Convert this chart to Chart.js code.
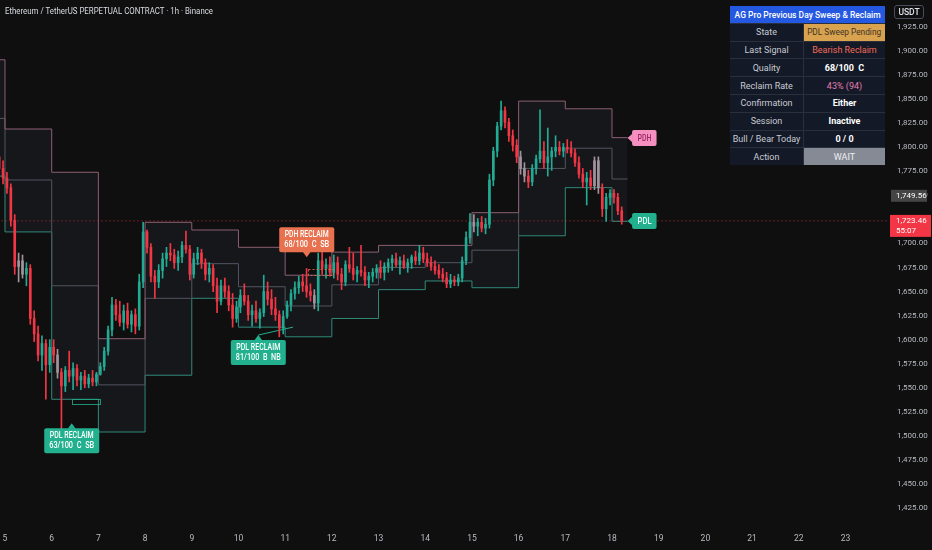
<!DOCTYPE html>
<html>
<head>
<meta charset="utf-8">
<title>ETHUSDT.P 1h - Previous Day Sweep & Reclaim</title>
<script src="https://cdn.jsdelivr.net/npm/chart.js@4.4.1/dist/chart.umd.min.js"></script>
<style>
  html, body { margin: 0; padding: 0; background: #0f0f0f; }
  #wrap { position: relative; width: 932px; height: 550px; overflow: hidden; font-family: Roboto, 'Liberation Sans', sans-serif; }
  #chart { position: absolute; left: 0; top: 0; }
  .title { position: absolute; left: 5px; top: 5px; font-size: 9.5px; line-height: 12px; color: #d8dbe2; white-space: nowrap; transform-origin: 0 50%; }
  .usdt { position: absolute; left: 894px; top: 5px; width: 30px; height: 14px; box-sizing: border-box; border: 1px solid #4a4e59; border-radius: 3px; color: #e0e3eb; font-size: 8.5px; font-weight: 500; line-height: 12px; text-align: center; }
  .info { position: absolute; left: 730px; top: 6px; width: 155px; display: grid; grid-template-columns: 73px 81px; grid-auto-rows: 16.8px; gap: 1px; background: #2a2f3c; }
  .info div { display: flex; align-items: center; justify-content: center; background: #131926; color: #c8cbd3; font-size: 9px; white-space: nowrap; overflow: hidden; }
  .info span { display: inline-block; transform-origin: 50% 50%; }
  .info .head { grid-column: span 2; background: #2458e0; color: #ffffff; font-weight: 500; font-size: 9.5px; }
  .info .state { background: #d9a24f; color: #3d3325; }
  .info .bear { color: #f26b5b; }
  .info .strong { color: #ffffff; font-weight: 700; }
  .info .rate { color: #e67fb6; }
  .info .wait { background: #868a95; color: #eceef2; }
</style>
</head>
<body>
<div id="wrap">
  <canvas id="chart" width="932" height="550"></canvas>
  <span class="title" id="title">Ethereum / TetherUS PERPETUAL CONTRACT · 1h · Binance</span>
  <div class="usdt">USDT</div>
  <div class="info">
    <div class="head"><span id="head">AG Pro Previous Day Sweep &amp; Reclaim</span></div>
    <div>State</div><div class="state"><span id="state">PDL Sweep Pending</span></div>
    <div>Last Signal</div><div class="bear">Bearish Reclaim</div>
    <div>Quality</div><div class="strong">68/100&nbsp; C</div>
    <div>Reclaim Rate</div><div class="rate">43% (94)</div>
    <div>Confirmation</div><div class="strong">Either</div>
    <div>Session</div><div class="strong">Inactive</div>
    <div>Bull / Bear Today</div><div class="strong">0 / 0</div>
    <div>Action</div><div class="wait">WAIT</div>
  </div>
</div>
<script>
// 2h candles [open, high, low, close]
const mar04 = [[1790, 1800, 1772, 1778], [1778, 1786, 1762, 1768]];
const mar05 = [
  [1768, 1774, 1752, 1758], [1758, 1762, 1718, 1724], [1724, 1730, 1668, 1676], [1676, 1690, 1660, 1682],
  [1682, 1688, 1664, 1668], [1668, 1680, 1656, 1674], [1674, 1678, 1616, 1622], [1622, 1630, 1598, 1606],
  [1606, 1614, 1578, 1584], [1584, 1604, 1568, 1596], [1596, 1600, 1538, 1574], [1574, 1600, 1566, 1592]
];
const mar06 = [
  [1592, 1600, 1576, 1584], [1584, 1590, 1560, 1566], [1566, 1570, 1505, 1552], [1552, 1572, 1546, 1568],
  [1568, 1588, 1556, 1562], [1562, 1576, 1548, 1570], [1570, 1574, 1552, 1558], [1558, 1566, 1548, 1562],
  [1562, 1568, 1550, 1554], [1554, 1564, 1550, 1560], [1560, 1568, 1552, 1556], [1556, 1566, 1552, 1564]
];
const mar07 = [
  [1564, 1576, 1563, 1572], [1572, 1592, 1568, 1588], [1588, 1614, 1584, 1610], [1610, 1644, 1604, 1636],
  [1636, 1642, 1620, 1626], [1626, 1640, 1614, 1618], [1618, 1636, 1610, 1630], [1630, 1638, 1612, 1616],
  [1616, 1630, 1608, 1626], [1626, 1632, 1606, 1614], [1614, 1668, 1610, 1660], [1660, 1722, 1654, 1712]
];
const mar08 = [
  [1712, 1714, 1690, 1696], [1696, 1700, 1660, 1666], [1666, 1672, 1643, 1660], [1660, 1678, 1654, 1672],
  [1672, 1690, 1664, 1684], [1684, 1696, 1676, 1690], [1690, 1700, 1682, 1688], [1688, 1694, 1674, 1680],
  [1680, 1692, 1672, 1686], [1686, 1702, 1680, 1698], [1698, 1713, 1690, 1694], [1694, 1698, 1662, 1668]
];
const mar09 = [
  [1668, 1690, 1664, 1684], [1684, 1696, 1678, 1690], [1690, 1694, 1674, 1680], [1680, 1684, 1662, 1668],
  [1668, 1680, 1660, 1674], [1674, 1678, 1650, 1656], [1656, 1664, 1628, 1640], [1640, 1662, 1636, 1656],
  [1656, 1664, 1644, 1650], [1650, 1656, 1630, 1636], [1636, 1648, 1613, 1622], [1622, 1640, 1618, 1634]
];
const mar10 = [
  [1634, 1652, 1628, 1646], [1646, 1658, 1636, 1640], [1640, 1646, 1620, 1626], [1626, 1636, 1614, 1630],
  [1630, 1640, 1618, 1622], [1622, 1632, 1612, 1628], [1628, 1667, 1624, 1650], [1650, 1660, 1636, 1642],
  [1642, 1652, 1626, 1632], [1632, 1644, 1620, 1626], [1626, 1630, 1603, 1612], [1612, 1630, 1606, 1624]
];
const mar11 = [
  [1624, 1640, 1622, 1636], [1636, 1652, 1630, 1648], [1648, 1660, 1642, 1654], [1654, 1666, 1648, 1660],
  [1660, 1668, 1650, 1656], [1656, 1674, 1644, 1650], [1650, 1658, 1640, 1646], [1646, 1652, 1632, 1638],
  [1638, 1690, 1630, 1682], [1682, 1691, 1668, 1674], [1674, 1684, 1664, 1678], [1678, 1686, 1666, 1670]
];
const mar12 = [
  [1670, 1688, 1664, 1680], [1680, 1686, 1662, 1668], [1668, 1674, 1652, 1660], [1660, 1682, 1656, 1678],
  [1678, 1696, 1670, 1674], [1674, 1690, 1662, 1668], [1668, 1676, 1660, 1672], [1672, 1698, 1666, 1670],
  [1670, 1676, 1656, 1662], [1662, 1670, 1654, 1666], [1666, 1674, 1660, 1670], [1670, 1678, 1664, 1674]
];
const mar13 = [
  [1674, 1682, 1664, 1670], [1670, 1680, 1662, 1676], [1676, 1684, 1670, 1680], [1680, 1688, 1672, 1684],
  [1684, 1690, 1676, 1678], [1678, 1686, 1668, 1682], [1682, 1688, 1674, 1676], [1676, 1684, 1670, 1680],
  [1680, 1688, 1674, 1686], [1686, 1692, 1678, 1682], [1682, 1698, 1678, 1690], [1690, 1696, 1680, 1684]
];
const mar14 = [
  [1684, 1690, 1676, 1680], [1680, 1686, 1672, 1676], [1676, 1682, 1668, 1672], [1672, 1678, 1664, 1668],
  [1668, 1674, 1660, 1664], [1664, 1670, 1654, 1658], [1658, 1668, 1654, 1662], [1662, 1666, 1656, 1660],
  [1660, 1668, 1656, 1664], [1664, 1686, 1660, 1682], [1682, 1712, 1678, 1706], [1706, 1731, 1700, 1722]
];
const mar15 = [
  [1722, 1730, 1712, 1718], [1718, 1726, 1708, 1722], [1722, 1728, 1712, 1716], [1716, 1726, 1710, 1720],
  [1720, 1772, 1716, 1766], [1766, 1800, 1760, 1796], [1796, 1826, 1790, 1822], [1822, 1848, 1818, 1838],
  [1838, 1842, 1820, 1826], [1826, 1830, 1806, 1812], [1812, 1818, 1796, 1802], [1802, 1808, 1784, 1790]
];
const mar16 = [
  [1790, 1796, 1772, 1778], [1778, 1784, 1764, 1770], [1770, 1776, 1758, 1764], [1764, 1782, 1760, 1778],
  [1778, 1792, 1772, 1788], [1788, 1839, 1784, 1796], [1796, 1806, 1778, 1784], [1784, 1820, 1770, 1790],
  [1790, 1800, 1776, 1796], [1796, 1812, 1790, 1800], [1800, 1806, 1792, 1796], [1796, 1804, 1790, 1800]
];
const mar17 = [
  [1800, 1808, 1794, 1798], [1798, 1806, 1790, 1794], [1794, 1798, 1780, 1784], [1784, 1790, 1768, 1772],
  [1772, 1778, 1758, 1764], [1764, 1774, 1740, 1768], [1768, 1776, 1756, 1760], [1760, 1790, 1756, 1786],
  [1786, 1790, 1752, 1758], [1758, 1762, 1728, 1736], [1736, 1752, 1723, 1748], [1748, 1756, 1740, 1752]
];
const mar18 = [[1752, 1756, 1742, 1748], [1748, 1752, 1730, 1734], [1734, 1738, 1720, 1723.46]];

// day, first hour of the day shown, bars
const sessions = [
  [4, 20, mar04], [5, 0, mar05], [6, 0, mar06], [7, 0, mar07], [8, 0, mar08], [9, 0, mar09],
  [10, 0, mar10], [11, 0, mar11], [12, 0, mar12], [13, 0, mar13], [14, 0, mar14], [15, 0, mar15],
  [16, 0, mar16], [17, 0, mar17], [18, 0, mar18]
];

// bars painted grey by the indicator (hour of bar centre since Mar 5 00:00)
const greyBars = [7, 9, 27, 159, 241, 265, 267, 303, 305];

// previous day range boxes, one per day (high, middle, low)
const boxDays  = [4, 5, 6, 7, 8, 9, 10, 11, 12, 13, 14, 15, 16, 17, 18];
const pdhLevels = [1891, 1819, 1774, 1601, 1722, 1714, 1696, 1667, 1691, 1698, 1698, 1732, 1848, 1840, 1810];
const midLevels = [1830, 1766, 1656, 1553, 1643, 1679, 1655, 1635, 1657, 1675, 1680, 1693, 1778, 1799, 1767];
const pdlLevels = [1770, 1712, 1538, 1504, 1563, 1643, 1613, 1603, 1622, 1652, 1661, 1654, 1708, 1758, 1723];
const boxEndHour = 320;

// signals: hour since Mar 5 00:00, price of the pointer tip
const signals = [
  { kind: 'bull', hour: 34.3, price: 1513, title: 'PDL RECLAIM', detail: '63/100  C  SB' },
  { kind: 'bull', hour: 130.2, price: 1604.8, title: 'PDL RECLAIM', detail: '81/100  B  NB' },
  { kind: 'bear', hour: 155.1, price: 1685.6, title: 'PDH RECLAIM', detail: '68/100  C  SB' }
];
const sweepZones = [
  { kind: 'bull', from: 34.4, to: 48.8, low: 1533, high: 1538 },
  { kind: 'bear', from: 155.7, to: 168.6, low: 1667, high: 1673 }
];
const reclaimLine = [{ x: 130.2, y: 1604.8 }, { x: 148, y: 1613 }];
const levelTags = [{ name: 'PDH', price: 1809.6 }, { name: 'PDL', price: 1723.3 }];

const lastPrice = 1723.46;
const countdown = '55:07';
const prevPrice = 1749.56;

const dayTicks = [5, 6, 7, 8, 9, 10, 11, 12, 13, 14, 15, 16, 17, 18, 19, 20, 21, 22, 23];
const priceTicks = [1425, 1450, 1475, 1500, 1525, 1550, 1575, 1600, 1625, 1650, 1675,
                    1700, 1725, 1750, 1775, 1800, 1825, 1850, 1875, 1900, 1925];

// colours
const UP = '#22ab94';
const DOWN = '#f23645';
const GREY = '#a1939b';
const BULL_TAG = '#22b08f';
const BEAR_TAG = '#e8714f';

// build candle points
const bars = [];
sessions.forEach(([day, fromHour, list]) => {
  list.forEach((c, k) => {
    bars.push({ t: (day - 5) * 24 + fromHour + 2 * k + 1, o: c[0], h: c[1], l: c[2], c: c[3] });
  });
});
const barColors = bars.map(b => (greyBars.includes(b.t) ? GREY : b.c >= b.o ? UP : DOWN));

function stepPoints(levels) {
  const pts = boxDays.map((d, i) => ({ x: (d - 5) * 24, y: levels[i] }));
  pts.push({ x: boxEndHour, y: levels[levels.length - 1] });
  return pts;
}

function fmtPrice(v) {
  return v.toLocaleString('en-US', { minimumFractionDigits: 2, maximumFractionDigits: 2 });
}

function boxPath(ctx, x, y, w, h, r) {
  ctx.beginPath();
  ctx.moveTo(x + r, y);
  ctx.lineTo(x + w - r, y);
  ctx.quadraticCurveTo(x + w, y, x + w, y + r);
  ctx.lineTo(x + w, y + h - r);
  ctx.quadraticCurveTo(x + w, y + h, x + w - r, y + h);
  ctx.lineTo(x + r, y + h);
  ctx.quadraticCurveTo(x, y + h, x, y + h - r);
  ctx.lineTo(x, y + r);
  ctx.quadraticCurveTo(x, y, x + r, y);
  ctx.closePath();
}

// labels, tags and zones drawn through the chart scales
const overlays = {
  id: 'overlays',
  afterDatasetsDraw(chart) {
    const { ctx, scales: { x, y } } = chart;
    ctx.save();

    // sweep zones
    sweepZones.forEach(z => {
      const x1 = x.getPixelForValue(z.from), x2 = x.getPixelForValue(z.to);
      const y1 = y.getPixelForValue(z.high), y2 = y.getPixelForValue(z.low);
      ctx.strokeStyle = z.kind === 'bull' ? 'rgba(34,176,143,0.8)' : 'rgba(232,113,79,0.8)';
      ctx.lineWidth = 1;
      ctx.setLineDash(z.kind === 'bull' ? [] : [2, 2]);
      ctx.strokeRect(Math.round(x1) + 0.5, Math.round(y1) + 0.5, Math.round(x2 - x1), Math.max(2, Math.round(y2 - y1)));
    });
    ctx.setLineDash([]);

    // signal labels
    ctx.textAlign = 'center';
    ctx.textBaseline = 'middle';
    signals.forEach(s => {
      const px = x.getPixelForValue(s.hour);
      const py = y.getPixelForValue(s.price);
      const w = 55, h = 25, tip = 5;
      const dir = s.kind === 'bull' ? 1 : -1;
      const top = dir > 0 ? py + tip : py - tip - h;
      ctx.fillStyle = s.kind === 'bull' ? BULL_TAG : BEAR_TAG;
      boxPath(ctx, px - w / 2, top, w, h, 2);
      ctx.fill();
      ctx.beginPath();
      ctx.moveTo(px, py);
      ctx.lineTo(px - 4, py + dir * tip + dir * 0.5);
      ctx.lineTo(px + 4, py + dir * tip + dir * 0.5);
      ctx.closePath();
      ctx.fill();
      ctx.fillStyle = '#ffffff';
      ctx.font = '500 9px Roboto';
      ctx.fillText(s.title, px, top + 7.5, 44);
      ctx.fillText(s.detail, px, top + 17.5, 45);
    });

    // PDH / PDL tags at the right end of the boxes
    levelTags.forEach(t => {
      const px = x.getPixelForValue(boxEndHour);
      const py = y.getPixelForValue(t.price);
      const isHigh = t.name === 'PDH';
      ctx.fillStyle = isHigh ? '#f48fc0' : BULL_TAG;
      boxPath(ctx, px + 4.5, py - 8, 24.5, 16, 2);
      ctx.fill();
      ctx.beginPath();
      ctx.moveTo(px, py);
      ctx.lineTo(px + 5, py - 4.5);
      ctx.lineTo(px + 5, py + 4.5);
      ctx.closePath();
      ctx.fill();
      ctx.fillStyle = isHigh ? '#9c2a66' : '#eafff8';
      ctx.font = '500 8.5px Roboto';
      ctx.fillText(t.name, px + 17, py + 0.5, 14);
    });
    ctx.restore();
  },
  afterDraw(chart) {
    const { ctx, chartArea, scales: { y } } = chart;
    ctx.save();
    ctx.textAlign = 'left';
    ctx.textBaseline = 'middle';
    ctx.font = '8px Roboto';

    const gy = y.getPixelForValue(prevPrice);
    ctx.fillStyle = '#454545';
    ctx.fillRect(chartArea.right + 2, gy - 6, 36, 12);
    ctx.fillStyle = '#ffffff';
    ctx.fillText(fmtPrice(prevPrice), chartArea.right + 7, gy + 0.5);

    const ry = y.getPixelForValue(lastPrice);
    ctx.fillStyle = DOWN;
    ctx.fillRect(chartArea.right + 1, ry - 6, 41, 22);
    ctx.fillStyle = '#ffffff';
    ctx.fillText(fmtPrice(lastPrice), chartArea.right + 7, ry + 0.5);
    ctx.fillText(countdown, chartArea.right + 7, ry + 10.5);
    ctx.restore();
  }
};

const ctx = document.getElementById('chart').getContext('2d');
new Chart(ctx, {
  type: 'bar',
  data: {
    datasets: [
      {
        type: 'line', data: stepPoints(pdhLevels), stepped: true,
        borderColor: '#8c5f73', borderWidth: 1, pointRadius: 0,
        fill: '+2', backgroundColor: 'rgba(120,123,165,0.08)', order: 5
      },
      {
        type: 'line', data: stepPoints(midLevels), stepped: true,
        borderColor: '#4f525b', borderWidth: 1, pointRadius: 0, fill: false, order: 5
      },
      {
        type: 'line', data: stepPoints(pdlLevels), stepped: true,
        borderColor: '#2e8a78', borderWidth: 1, pointRadius: 0, fill: false, order: 5
      },
      {
        type: 'line', data: [{ x: -10, y: lastPrice }, { x: 460, y: lastPrice }],
        borderColor: 'rgba(242,54,69,0.8)', borderWidth: 1, borderDash: [1, 3],
        pointRadius: 0, fill: false, order: 4
      },
      {
        type: 'line', data: reclaimLine,
        borderColor: BULL_TAG, borderWidth: 1, pointRadius: 0, fill: false, order: 4
      },
      {
        data: bars.map(b => ({ x: b.t, y: [b.l, b.h] })),
        backgroundColor: barColors, barThickness: 1, grouped: false, order: 2
      },
      {
        data: bars.map(b => ({ x: b.t, y: [b.o, b.c] })),
        backgroundColor: barColors, barThickness: 2, minBarLength: 1, grouped: false, order: 1
      }
    ]
  },
  options: {
    responsive: false,
    animation: false,
    layout: { padding: 0 },
    plugins: { legend: { display: false }, tooltip: { enabled: false } },
    scales: {
      x: {
        type: 'linear', min: -2.57, max: 454.38, offset: false,
        grid: { display: false, drawTicks: false, offset: false }, border: { display: false },
        afterBuildTicks: s => { s.ticks = dayTicks.map(d => ({ value: (d - 5) * 24 })); },
        afterFit: s => { s.height = 22; s.paddingLeft = 0; s.paddingRight = 0; },
        ticks: {
          autoSkip: false, maxRotation: 0, padding: 6, color: '#b7bac2',
          font: { family: 'Roboto', size: 8.5 },
          callback: v => String(5 + v / 24)
        }
      },
      y: {
        position: 'right', min: 1404.2, max: 1953.1, beginAtZero: false,
        grid: { display: false, drawTicks: false }, border: { display: false },
        afterBuildTicks: s => { s.ticks = priceTicks.map(v => ({ value: v })); },
        afterFit: s => { s.width = 43; s.paddingTop = 0; s.paddingBottom = 0; },
        ticks: {
          padding: 8, color: '#b7bac2',
          font: { family: 'Roboto', size: 8 },
          callback: v => fmtPrice(v)
        }
      }
    }
  },
  plugins: [overlays]
});

// squeeze the overlay texts to the widths seen in the picture
function fitWidth(el, w) {
  el.style.display = 'inline-block';
  const natural = el.getBoundingClientRect().width;
  el.style.transform = 'scaleX(' + (w / natural) + ')';
}
fitWidth(document.getElementById('title'), 208);
fitWidth(document.getElementById('head'), 146);
fitWidth(document.getElementById('state'), 74);
</script>
</body>
</html>
